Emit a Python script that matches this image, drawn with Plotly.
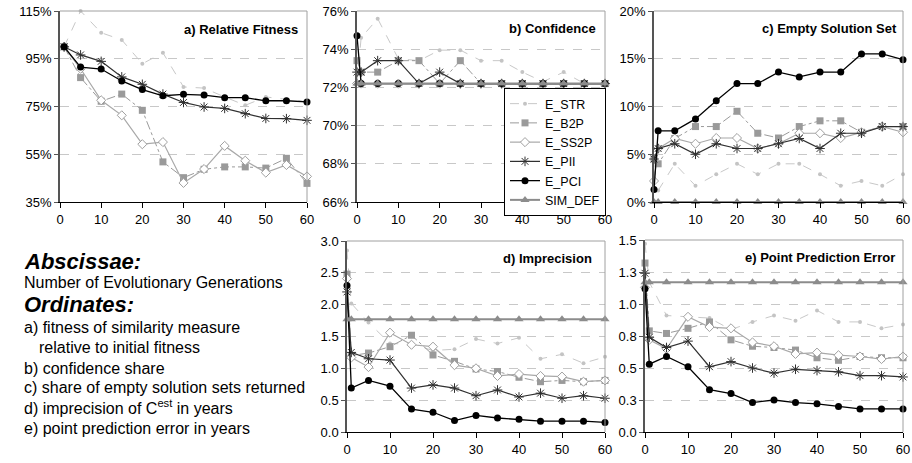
import plotly.graph_objects as go

# ---------------- data ----------------
SERIES = ["E_STR", "E_B2P", "E_SS2P", "E_PII", "E_PCI", "SIM_DEF"]
X_A = [1, 5, 10, 15, 20, 25, 30, 35, 40, 45, 50, 55, 60]
X = [0, 1, 5, 10, 15, 20, 25, 30, 35, 40, 45, 50, 55, 60]

# a) Relative Fitness (%)
a_STR = [100, 115, 105.9, 102.9, 92.9, 97.5, 83.2, 82.7, 79.0, 75.5, 79.0, 78.0, 77.0]
a_B2P = [100, 87.1, 77.2, 80.2, 73.4, 51.8, 45.2, 48.7, 49.7, 49.7, 49.2, 53.3, 42.8]
a_SS2P = [100, 90.8, 77.6, 71.3, 59.2, 60.1, 43.0, 48.8, 58.5, 52.3, 47.3, 50.5, 45.7]
a_PII = [100, 96.6, 93.9, 87.4, 84.3, 80.2, 76.7, 74.8, 74.2, 72.0, 70.0, 69.9, 69.2]
a_PCI = [100, 91.5, 90.7, 85.7, 82.1, 79.5, 80.1, 79.8, 78.7, 78.7, 77.4, 77.4, 76.9]

# b) Confidence (%)
b_STR = [72.2, 74.6, 75.6, 73.5, 73.4, 73.95, 73.95, 73.4, 73.4, 72.8, 72.3, 72.8, 72.2, 72.2]
b_B2P = [73.4, 72.8, 72.8, 73.4, 73.4, 72.2, 73.4, 72.2, 72.2, 72.2, 72.2, 72.2, 72.2, 72.2]
b_SS2P = [72.2, 72.2, 72.2, 72.2, 72.2, 72.2, 72.2, 72.2, 72.2, 72.2, 72.2, 72.2, 72.2, 72.2]
b_PII = [72.8, 72.8, 73.4, 73.4, 72.2, 72.8, 72.2, 72.2, 72.2, 72.2, 72.2, 72.2, 72.2, 72.2]
b_PCI = [74.7, 72.2, 72.2, 72.2, 72.2, 72.2, 72.2, 72.2, 72.2, 72.2, 72.2, 72.2, 72.2, 72.2]
b_SIM = [72.2, 72.2, 72.2, 72.2, 72.2, 72.2, 72.2, 72.2, 72.2, 72.2, 72.2, 72.2, 72.2, 72.2]

# c) Empty Solution Set (%)
c_STR = [3.0, 1.2, 4.0, 1.7, 2.9, 4.0, 2.9, 4.0, 4.0, 2.9, 1.7, 2.2, 1.7, 2.9]
c_B2P = [4.5, 4.0, 6.65, 7.9, 7.9, 9.5, 7.2, 6.7, 7.9, 8.5, 8.5, 7.3, 7.9, 7.9]
c_SS2P = [2.2, 5.6, 6.65, 6.1, 6.7, 6.7, 5.6, 6.1, 7.2, 7.2, 6.7, 7.3, 7.9, 7.3]
c_PII = [4.5, 5.6, 6.1, 5.0, 6.1, 5.6, 5.6, 6.1, 6.65, 5.6, 7.2, 7.2, 7.9, 7.9]
c_PCI = [1.3, 7.45, 7.45, 8.7, 10.6, 12.4, 12.4, 13.6, 13.1, 13.6, 13.6, 15.5, 15.5, 14.9]
c_SIM = [0, 0, 0, 0, 0, 0, 0, 0, 0, 0, 0, 0, 0, 0]

# d) Imprecision (years)
d_STR = [2.85, 2.02, 1.72, 1.39, 1.38, 1.28, 1.30, 1.46, 1.39, 1.48, 1.15, 1.22, 1.08, 1.18]
d_B2P = [2.48, 1.20, 1.24, 1.34, 1.52, 1.21, 1.11, 0.99, 0.95, 0.86, 0.79, 0.81, 0.79, 0.81]
d_SS2P = [2.41, 1.17, 1.02, 1.56, 1.37, 1.34, 1.05, 1.00, 0.88, 0.91, 0.88, 0.87, 0.79, 0.81]
d_PII = [2.20, 1.25, 1.15, 1.13, 0.69, 0.74, 0.69, 0.57, 0.66, 0.55, 0.61, 0.53, 0.57, 0.53]
d_PCI = [2.30, 0.69, 0.81, 0.72, 0.36, 0.31, 0.18, 0.26, 0.22, 0.20, 0.17, 0.17, 0.17, 0.15]
d_SIM = [1.77, 1.77, 1.77, 1.77, 1.77, 1.77, 1.77, 1.77, 1.77, 1.77, 1.77, 1.77, 1.77, 1.77]

# e) Point Prediction Error (years)
e_STR = [1.47, 1.17, 0.91, 0.90, 0.89, 0.80, 0.86, 0.91, 0.87, 0.95, 0.86, 0.86, 0.81, 0.84]
e_B2P = [1.32, 0.79, 0.77, 0.81, 0.86, 0.72, 0.67, 0.66, 0.64, 0.58, 0.56, 0.59, 0.58, 0.58]
e_SS2P = [1.13, 0.72, 0.65, 0.90, 0.82, 0.81, 0.70, 0.67, 0.61, 0.62, 0.60, 0.59, 0.57, 0.59]
e_PII = [1.24, 0.74, 0.66, 0.71, 0.51, 0.55, 0.50, 0.46, 0.49, 0.48, 0.47, 0.44, 0.44, 0.43]
e_PCI = [1.12, 0.53, 0.59, 0.51, 0.33, 0.30, 0.23, 0.25, 0.23, 0.22, 0.20, 0.18, 0.18, 0.18]
e_SIM = [1.17, 1.17, 1.17, 1.17, 1.17, 1.17, 1.17, 1.17, 1.17, 1.17, 1.17, 1.17, 1.17, 1.17]

X_TICKS = [0, 10, 20, 30, 40, 50, 60]
A_TICKS = [35, 55, 75, 95, 115]
A_TICKTEXT = ["35%", "55%", "75%", "95%", "115%"]
B_TICKS = [66, 68, 70, 72, 74, 76]
B_TICKTEXT = ["66%", "68%", "70%", "72%", "74%", "76%"]
C_TICKS = [0, 5, 10, 15, 20]
C_TICKTEXT = ["0%", "5%", "10%", "15%", "20%"]
D_TICKS = [0, 0.5, 1.0, 1.5, 2.0, 2.5, 3.0]
D_TICKTEXT = ["0.0", "0.5", "1.0", "1.5", "2.0", "2.5", "3.0"]
E_TICKS = [0, 0.25, 0.5, 0.75, 1.0, 1.25, 1.5]
E_TICKTEXT = ["0.0", "0.3", "0.5", "0.8", "1.0", "1.3", "1.5"]

PANEL_TITLES = ["a) Relative Fitness", "b) Confidence", "c) Empty Solution Set",
                "d) Imprecision", "e) Point Prediction Error"]

# ---------------- styles ----------------
STYLE = {
    "E_STR": dict(line=dict(color="#c8c8c8", width=1, dash="dash"),
                  marker=dict(symbol="circle", size=4, color="#c4c4c4")),
    "E_B2P": dict(line=dict(color="#9a9a9a", width=1, dash="dashdot"),
                  marker=dict(symbol="square", size=7, color="#9a9a9a")),
    "E_SS2P": dict(line=dict(color="#a8a8a8", width=1.2),
                   marker=dict(symbol="diamond", size=7, color="white",
                               line=dict(color="#a0a0a0", width=1))),
    "E_PII": dict(line=dict(color="#303030", width=1.2),
                  marker=dict(symbol="asterisk-open", size=8, color="#303030",
                              line=dict(color="#303030", width=1))),
    "E_PCI": dict(line=dict(color="#000000", width=1.3),
                  marker=dict(symbol="circle", size=7, color="#000000")),
    "SIM_DEF": dict(line=dict(color="#8c8c8c", width=2),
                    marker=dict(symbol="triangle-up", size=8, color="#8c8c8c")),
}

panels = [
    ("x", "y", X_A, [a_STR, a_B2P, a_SS2P, a_PII, a_PCI, None]),
    ("x2", "y2", X, [b_STR, b_B2P, b_SS2P, b_PII, b_PCI, b_SIM]),
    ("x3", "y3", X, [c_STR, c_B2P, c_SS2P, c_PII, c_PCI, c_SIM]),
    ("x4", "y4", X, [d_STR, d_B2P, d_SS2P, d_PII, d_PCI, d_SIM]),
    ("x5", "y5", X, [e_STR, e_B2P, e_SS2P, e_PII, e_PCI, e_SIM]),
]

fig = go.Figure()
for pi, (xa, ya, xs, series) in enumerate(panels):
    for name, ys in zip(SERIES, series):
        if ys is None:
            continue
        st = STYLE[name]
        fig.add_trace(go.Scatter(
            x=xs, y=ys, name=name, mode="lines+markers",
            xaxis=xa, yaxis=ya, line=st["line"], marker=st["marker"],
            cliponaxis=False,
            showlegend=(pi == 1), legendrank=SERIES.index(name) + 1,
        ))

W, H = 912, 463
def dx(p0, p1):
    return [p0 / W, p1 / W]
def dy(top, bottom):
    return [1 - bottom / H, 1 - top / H]

FONT = "Liberation Sans, Arial, sans-serif"
common_x = dict(range=[0, 60], tickmode="array", tickvals=X_TICKS, showline=True,
                linecolor="black", linewidth=1, ticks="outside", ticklen=5,
                tickcolor="black", showgrid=False, zeroline=False, automargin=False,
                tickfont=dict(size=13, color="black"))
common_y = dict(showline=True, linecolor="#555555", linewidth=1.5, ticks="outside",
                ticklen=4, tickcolor="#555555", showgrid=True, gridcolor="#c8c8c8",
                griddash="dash", gridwidth=1, zeroline=False, automargin=False,
                tickmode="array", tickfont=dict(size=13, color="black"))

domains = [
    (dx(60, 307), dy(11, 202)),
    (dx(357, 605), dy(11, 202)),
    (dx(654, 903), dy(11, 202)),
    (dx(347, 605), dy(241, 432)),
    (dx(645, 903), dy(240, 432)),
]
yspecs = [
    dict(range=[35, 115], tickvals=A_TICKS, ticktext=A_TICKTEXT),
    dict(range=[66, 76], tickvals=B_TICKS, ticktext=B_TICKTEXT),
    dict(range=[0, 20], tickvals=C_TICKS, ticktext=C_TICKTEXT),
    dict(range=[0, 3], tickvals=D_TICKS, ticktext=D_TICKTEXT),
    dict(range=[0, 1.5], tickvals=E_TICKS, ticktext=E_TICKTEXT),
]

layout = dict(width=W, height=H,
              margin=dict(l=0, r=0, t=0, b=0, pad=0, autoexpand=False),
              paper_bgcolor="white", plot_bgcolor="white",
              font=dict(family=FONT, size=13, color="black"),
              showlegend=True,
              legend=dict(x=606 / W, y=1 - 88 / H, xanchor="right", yanchor="top",
                          bgcolor="white", bordercolor="black", borderwidth=1,
                          font=dict(size=12.5, family=FONT), tracegroupgap=0,
                          itemwidth=30))
for i, ((xd, yd), ys) in enumerate(zip(domains, yspecs)):
    k = "" if i == 0 else str(i + 1)
    layout["xaxis" + k] = dict(common_x, domain=xd, anchor="y" + k)
    layout["yaxis" + k] = dict(common_y, domain=yd, anchor="x" + k, **ys)
fig.update_layout(**layout)

# gray frame (top & right) and panel titles
shapes = []
annotations = []
title_pos = [(300, 29), (598, 28), (899, 28), (594, 258), (897, 257)]
for i, (t, (tx, ty)) in enumerate(zip(PANEL_TITLES, title_pos)):
    k = "" if i == 0 else str(i + 1)
    xr, yr = "x" + k + " domain", "y" + k + " domain"
    shapes.append(dict(type="line", xref=xr, yref=yr, x0=0, x1=1, y0=1, y1=1,
                       line=dict(color="#a0a0a0", width=1)))
    shapes.append(dict(type="line", xref=xr, yref=yr, x0=1, x1=1, y0=0, y1=1,
                       line=dict(color="#a0a0a0", width=1)))
    annotations.append(dict(text="<b>" + t + "</b>", xref="paper", yref="paper",
                            x=tx / W, y=1 - ty / H, xanchor="right", yanchor="middle",
                            showarrow=False, font=dict(size=13, family=FONT)))

# explanatory text block
TEXT_LINES = [
    ("<b><i>Abscissae:</i></b>", 22, 261, 22),
    ("Number of Evolutionary Generations", 22, 282, 16),
    ("<b><i>Ordinates:</i></b>", 22, 304, 22),
    ("a) fitness of similarity measure", 22, 327, 16),
    ("relative to initial fitness", 37, 347, 16),
    ("b) confidence share", 22, 368, 16),
    ("c) share of empty solution sets returned", 22, 387, 16),
    ("d) imprecision of C<sup>est</sup> in years", 22, 407, 16),
    ("e) point prediction error in years", 22, 428, 16),
]
for txt, px, py, fs in TEXT_LINES:
    annotations.append(dict(text=txt, xref="paper", yref="paper", x=px / W,
                            y=1 - py / H, xanchor="left", yanchor="middle",
                            showarrow=False, font=dict(size=fs, family=FONT)))

fig.update_layout(shapes=shapes, annotations=annotations)
fig.write_html("out.html", config={"displayModeBar": False},
               post_script="document.body.style.margin='0px';"
                           "document.body.style.overflow='hidden';")
